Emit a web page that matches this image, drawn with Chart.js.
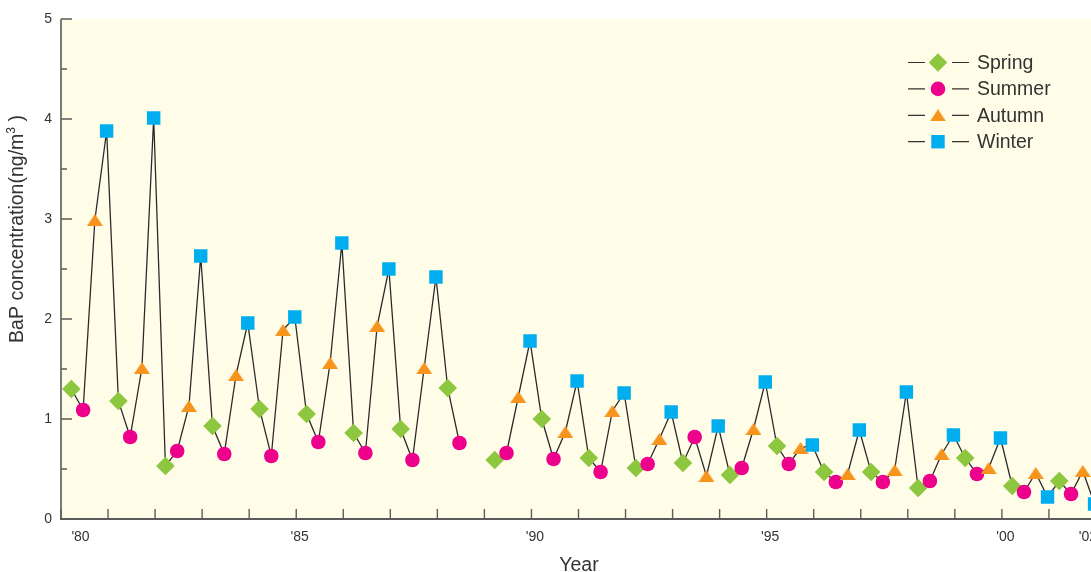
<!DOCTYPE html>
<html>
<head>
<meta charset="utf-8">
<script src="https://cdn.jsdelivr.net/npm/chart.js@4.4.1/dist/chart.umd.min.js"></script>
<style>
  html, body { margin: 0; padding: 0; background: #fff; overflow: hidden; }
  canvas { position: absolute; left: 0; top: 0; }
</style>
</head>
<body>
<canvas id="myChart" width="1129" height="572"></canvas>
<script>
// seasonal BaP averages (ng/m3)
const years  = [1980, 1981, 1982, 1983, 1984, 1985, 1986, 1987, 1988, 1989, 1990,
                1991, 1992, 1993, 1994, 1995, 1996, 1997, 1998, 1999, 2000, 2001];
const spring = [1.30, 1.18, 0.53, 0.93, 1.10, 1.05, 0.86, 0.90, 1.31, 0.59, 1.00,
                0.61, 0.51, 0.56, 0.44, 0.73, 0.47, 0.47, 0.31, 0.61, 0.33, 0.38];
const summer = [1.09, 0.82, 0.68, 0.65, 0.63, 0.77, 0.66, 0.59, 0.76, 0.66, 0.60,
                0.47, 0.55, 0.82, 0.51, 0.55, 0.37, 0.37, 0.38, 0.45, 0.27, 0.25];
const autumn = [2.99, 1.51, 1.13, 1.44, 1.89, 1.56, 1.93, 1.51, null, 1.22, 0.87,
                1.08, 0.80, 0.43, 0.90, 0.71, 0.45, 0.49, 0.65, 0.51, 0.46, 0.48];
const winter = [3.88, 4.01, 2.63, 1.96, 2.02, 2.76, 2.50, 2.42, null, 1.78, 1.38,
                1.26, 1.07, 0.93, 1.37, 0.74, 0.89, 1.27, 0.84, 0.81, 0.22, 0.15];

const seasonNames  = ['Spring', 'Summer', 'Autumn', 'Winter'];
const seasonValues = [spring, summer, autumn, winter];
const seasonOffset = [0.22, 0.47, 0.72, 0.97];   // where each season sits inside its year

const yTicks = [0, 1, 2, 3, 4, 5];
const xTickYears  = [1980, 1985, 1990, 1995, 2000, 2002];
const xTickLabels = ["'80", "'85", "'90", "'95", "'00", "'02"];

// flat triangle marker like the original
function makeTriangle(color) {
  const c = document.createElement('canvas');
  c.width = 16; c.height = 12;
  const g = c.getContext('2d');
  g.fillStyle = color;
  g.beginPath();
  g.moveTo(8, 0); g.lineTo(16, 12); g.lineTo(0, 12);
  g.closePath(); g.fill();
  return c;
}

const colors = ['#8DC63F', '#EC008C', '#F7941D', '#00AEEF'];
const styles = [
  { pointStyle: 'rectRot', radius: 9.3 },
  { pointStyle: 'circle', radius: 7.3 },
  { pointStyle: makeTriangle(colors[2]), radius: 8 },
  { pointStyle: 'rect', radius: 9.5 }
];

// every point in time order for the connecting line
const linePoints = [];
years.forEach((yr, i) => {
  seasonValues.forEach((vals, q) => {
    linePoints.push({ x: yr + seasonOffset[q], y: vals[i] });
  });
});

const markerSets = seasonNames.map((name, q) => ({
  label: name,
  data: years.map((yr, i) => ({ x: yr + seasonOffset[q], y: seasonValues[q][i] }))
             .filter(p => p.y !== null),
  showLine: false,
  pointStyle: styles[q].pointStyle,
  pointRadius: styles[q].radius,
  pointBackgroundColor: colors[q],
  pointBorderColor: colors[q],
  pointBorderWidth: 0,
  order: 3 - q
}));

const lineSet = {
  label: 'line',
  data: linePoints,
  showLine: true,
  spanGaps: false,
  borderColor: '#2a2a2a',
  borderWidth: 1.3,
  pointRadius: 0,
  order: 10
};

const textColor = '#333';
const fontFamily = '"Liberation Sans", Arial, Helvetica, sans-serif';

const framePlugin = {
  id: 'frame',
  beforeDatasetsDraw(chart) {
    const { ctx, chartArea: a, scales: { x, y } } = chart;
    ctx.save();
    ctx.fillStyle = '#FFFDE7';
    ctx.fillRect(a.left, a.top, a.right - a.left, a.bottom - a.top);

    ctx.strokeStyle = '#5c5c5c';
    ctx.lineWidth = 1.4;
    ctx.beginPath();
    for (let v = yTicks[0]; v <= yTicks[yTicks.length - 1]; v += 0.5) {
      const py = y.getPixelForValue(v);
      const len = Number.isInteger(v) ? 11 : 6;
      ctx.moveTo(a.left, py);
      ctx.lineTo(a.left + len, py);
    }
    years.concat([2002]).forEach(yr => {
      const px = x.getPixelForValue(yr);
      ctx.moveTo(px, a.bottom);
      ctx.lineTo(px, a.bottom - 10);
    });
    ctx.stroke();

    ctx.beginPath();
    ctx.lineWidth = 1.6;
    ctx.moveTo(a.left, a.top);
    ctx.lineTo(a.left, a.bottom);
    ctx.stroke();
    ctx.beginPath();
    ctx.lineWidth = 2.2;
    ctx.strokeStyle = '#5a5a5a';
    ctx.moveTo(a.left - 1, a.bottom);
    ctx.lineTo(a.right, a.bottom);
    ctx.stroke();
    ctx.restore();
  },
  afterDraw(chart) {
    const { ctx, chartArea: a, scales: { x, y } } = chart;
    ctx.save();
    ctx.fillStyle = textColor;

    // y tick labels
    ctx.font = '14px ' + fontFamily;
    ctx.textAlign = 'right';
    ctx.textBaseline = 'middle';
    yTicks.forEach(v => ctx.fillText(String(v), a.left - 9, y.getPixelForValue(v)));

    // x tick labels
    ctx.textAlign = 'center';
    xTickYears.forEach((yr, i) => {
      let shift = 3.5;
      if (i === 0) shift = 19.5;
      if (i === xTickYears.length - 1) shift = -8;
      ctx.fillText(xTickLabels[i], x.getPixelForValue(yr) + shift, a.bottom + 18);
    });

    // axis titles
    ctx.font = '19.5px ' + fontFamily;
    ctx.fillText('Year', 579, 566);

    ctx.save();
    ctx.translate(18, 229);
    ctx.rotate(-Math.PI / 2);
    ctx.textAlign = 'left';
    const main = 'BaP concentration(ng/m';
    const tail = ' )';
    const wMain = ctx.measureText(main).width;
    const wTail = ctx.measureText(tail).width;
    ctx.font = '12px ' + fontFamily;
    const wSup = ctx.measureText('3').width;
    const start = -(wMain + wSup + wTail) / 2;
    ctx.font = '19.5px ' + fontFamily;
    ctx.fillText(main, start, 0);
    ctx.fillText(tail, start + wMain + wSup, 0);
    ctx.font = '12px ' + fontFamily;
    ctx.fillText('3', start + wMain, -6);
    ctx.restore();

    // legend
    ctx.font = '19.5px ' + fontFamily;
    ctx.textAlign = 'left';
    seasonNames.forEach((name, q) => {
      const ry = 62.5 + q * 26.4;
      ctx.strokeStyle = '#333';
      ctx.lineWidth = 1.2;
      ctx.beginPath();
      ctx.moveTo(908, ry); ctx.lineTo(925, ry);
      ctx.moveTo(952, ry); ctx.lineTo(969, ry);
      ctx.stroke();
      ctx.fillStyle = colors[q];
      ctx.strokeStyle = colors[q];
      Chart.helpers.drawPoint(ctx, {
        pointStyle: styles[q].pointStyle, radius: styles[q].radius,
        rotation: 0, borderWidth: 0
      }, 938, ry);
      ctx.fillStyle = textColor;
      ctx.fillText(name, 977, ry + 1);
    });
    ctx.restore();
  }
};

new Chart(document.getElementById('myChart').getContext('2d'), {
  type: 'scatter',
  data: { datasets: [lineSet].concat(markerSets) },
  options: {
    responsive: false,
    animation: false,
    devicePixelRatio: 1,
    layout: { padding: { left: 61, top: 19, right: 5, bottom: 53 } },
    plugins: { legend: { display: false }, tooltip: { enabled: false } },
    scales: {
      x: { type: 'linear', min: 1980, max: 2002.5, display: false },
      y: { type: 'linear', min: 0, max: 5, display: false }
    }
  },
  plugins: [framePlugin]
});
</script>
</body>
</html>
